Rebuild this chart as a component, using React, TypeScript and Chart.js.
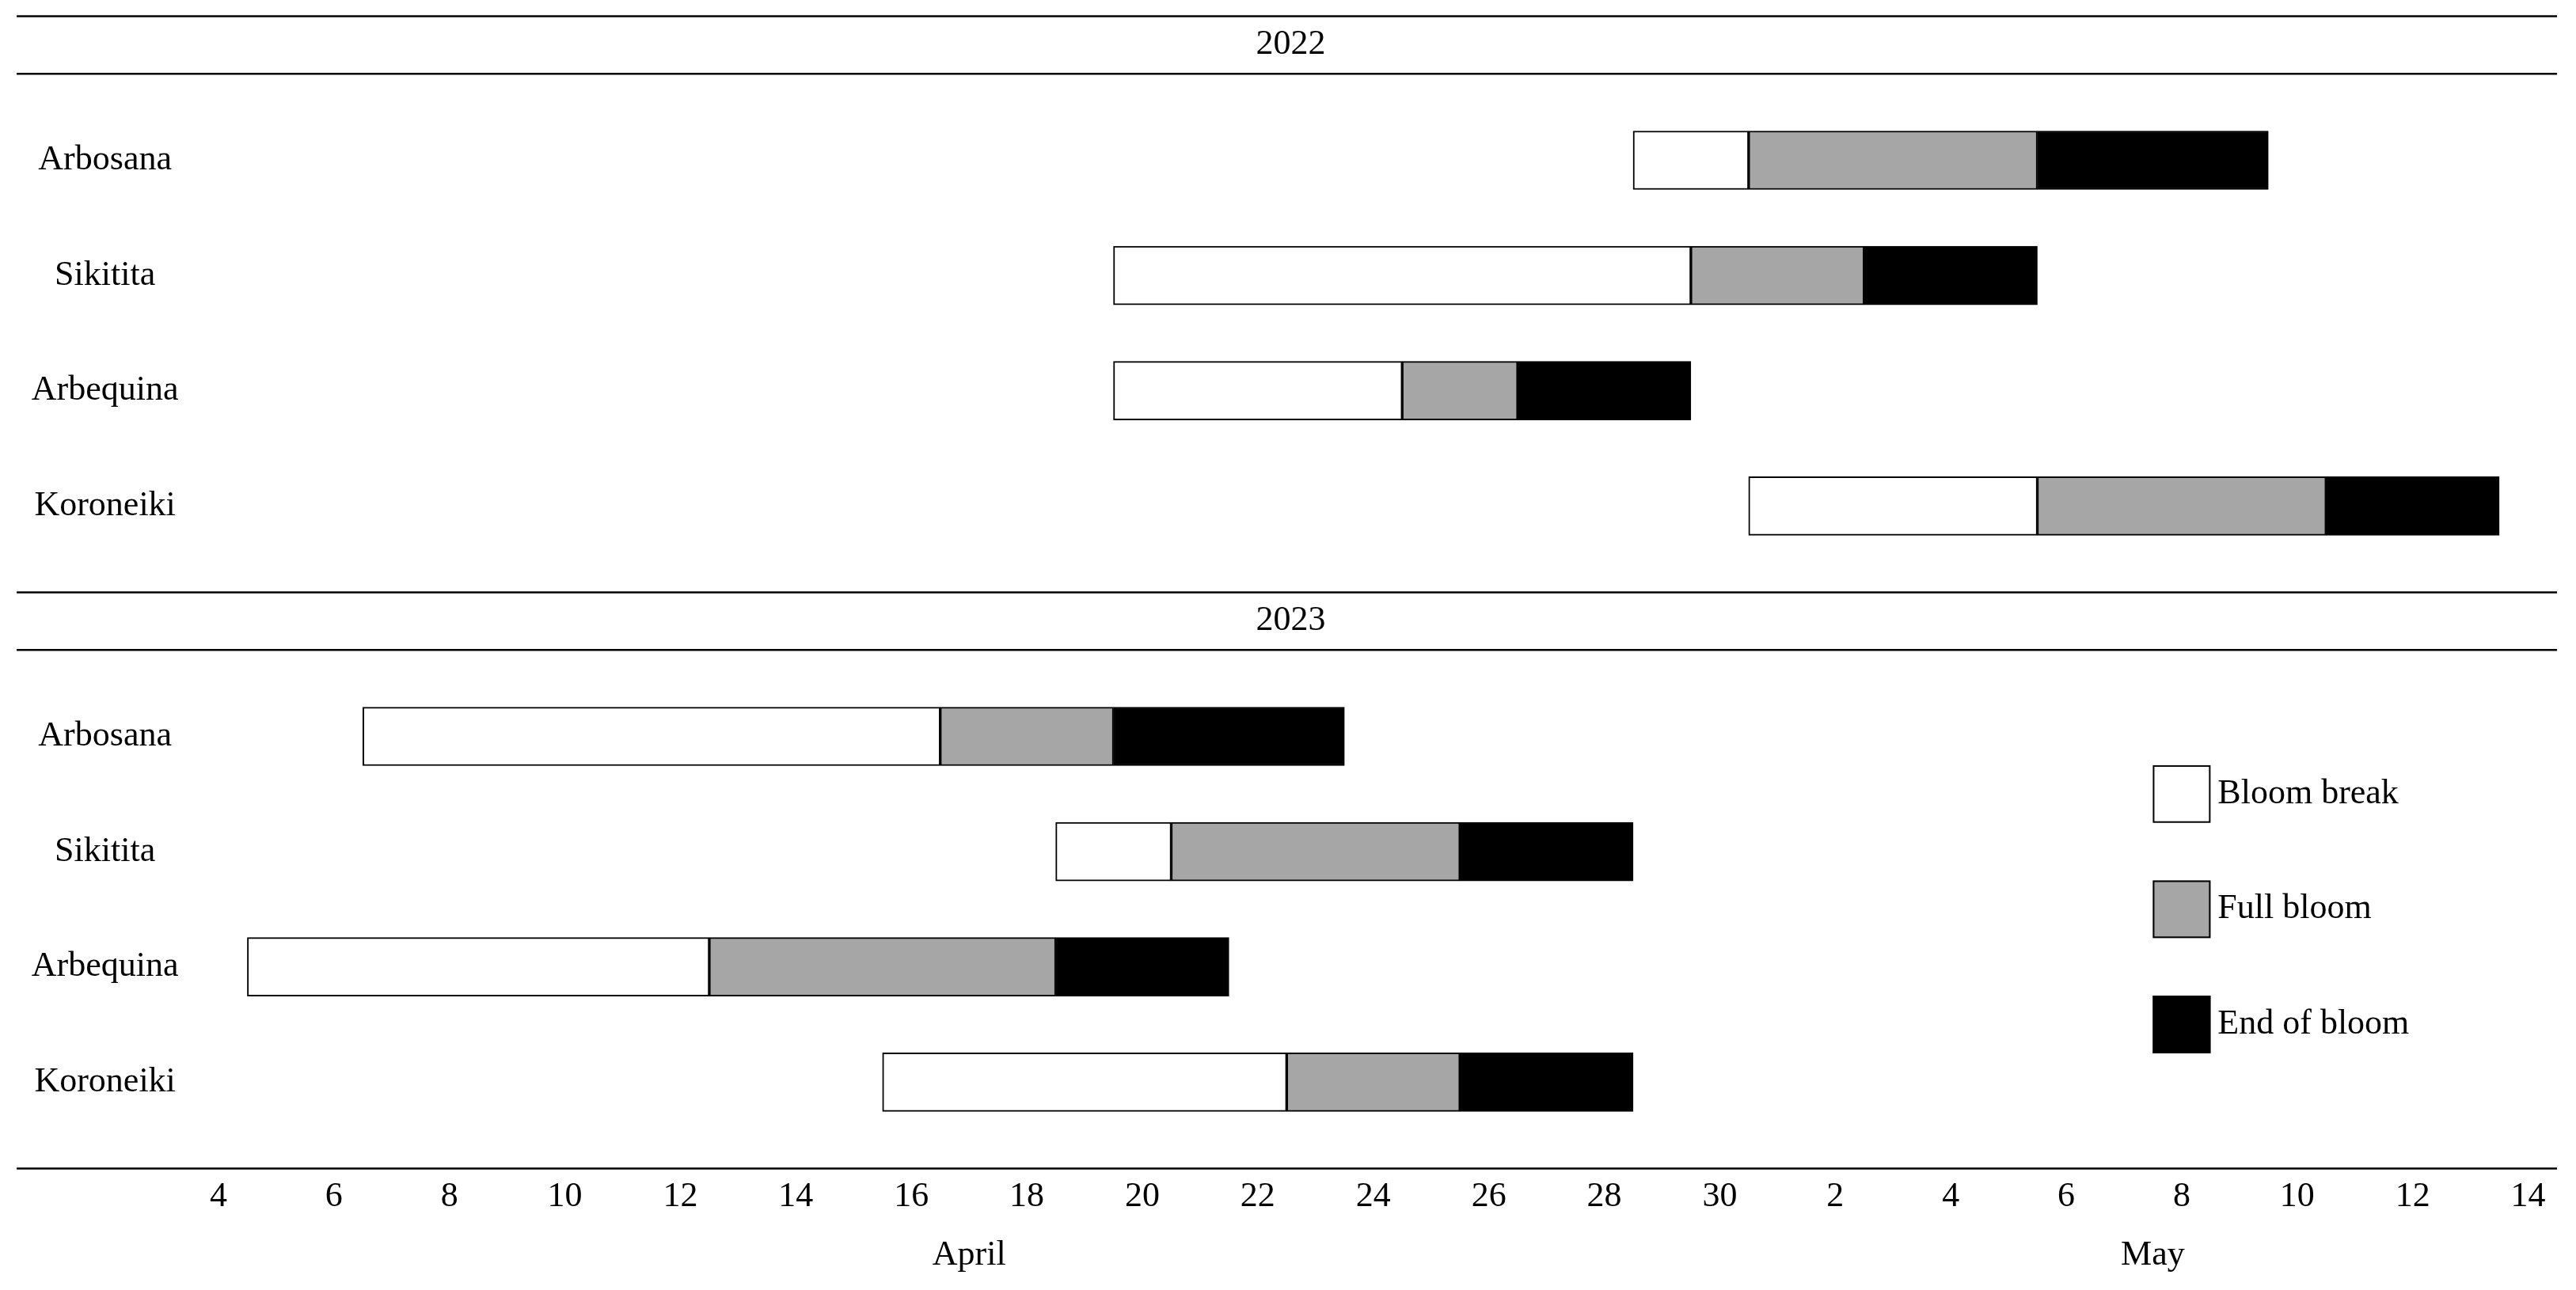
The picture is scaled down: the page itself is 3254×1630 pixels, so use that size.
import { useEffect, useRef } from 'react';
import { Chart, registerables } from 'chart.js';

Chart.register(...registerables);

// ---------------- data ----------------
const years = ['2022', '2023'];
const varieties = ['Arbosana', 'Sikitita', 'Arbequina', 'Koroneiki'];
const stageNames = ['Bloom break', 'Full bloom', 'End of bloom'];
const stageColors = ['#ffffff', '#a6a6a6', '#000000'];

// Day numbers counted from 1 April (1 May = 31). Each entry: [start, end] of the stage, per variety.
const bloomBreak2022 = [[28.5, 30.5], [19.5, 29.5], [19.5, 24.5], [30.5, 35.5]];
const fullBloom2022 = [[30.5, 35.5], [29.5, 32.5], [24.5, 26.5], [35.5, 40.5]];
const endOfBloom2022 = [[35.5, 39.5], [32.5, 35.5], [26.5, 29.5], [40.5, 43.5]];

const bloomBreak2023 = [[6.5, 16.5], [18.5, 20.5], [4.5, 12.5], [15.5, 22.5]];
const fullBloom2023 = [[16.5, 19.5], [20.5, 25.5], [12.5, 18.5], [22.5, 25.5]];
const endOfBloom2023 = [[19.5, 23.5], [25.5, 28.5], [18.5, 21.5], [25.5, 28.5]];

const xTickValues = [4, 6, 8, 10, 12, 14, 16, 18, 20, 22, 24, 26, 28, 30, 32, 34, 36, 38, 40, 42, 44];
const xTickLabels = ['4', '6', '8', '10', '12', '14', '16', '18', '20', '22', '24', '26', '28', '30', '2', '4', '6', '8', '10', '12', '14'];
const monthTickValues = [17, 37.5];
const monthLabels = ['April', 'May'];

// ---------------- layout helpers ----------------
const FONT = 'Liberation Serif';
const FONT_SIZE = 44;
const ROWS_PER_YEAR = 5; // header row + 4 varieties

const series2022 = [bloomBreak2022, fullBloom2022, endOfBloom2022];
const series2023 = [bloomBreak2023, fullBloom2023, endOfBloom2023];
const seriesByYear = [series2022, series2023];

const varietyRows: number[] = [];
const varietyRowLabels: string[] = [];
years.forEach((_, yi) => {
  varieties.forEach((v, vi) => {
    varietyRows.push(yi * ROWS_PER_YEAR + vi);
    varietyRowLabels.push(v);
  });
});

const datasets = stageNames.map((name, s) => ({
  label: name,
  data: seriesByYear.flatMap((series, yi) =>
    series[s].map((iv, vi) => ({ x: iv, y: yi * ROWS_PER_YEAR + vi }))
  ),
  backgroundColor: stageColors[s],
  borderColor: '#000000',
  borderWidth: 2,
  borderSkipped: false as const,
  grouped: false,
  categoryPercentage: 1,
  barPercentage: 1,
  maxBarThickness: 74,
  xAxisID: 'x',
  yAxisID: 'y',
}));

const decorPlugin = {
  id: 'decor',
  afterDraw(chart: any) {
    const { ctx, chartArea, scales } = chart;
    const xs = scales.x;
    const ys = scales.y;
    const left = ys.left;
    const right = chartArea.right;
    ctx.save();
    // horizontal rules
    ctx.strokeStyle = '#000000';
    ctx.lineWidth = 2.5;
    const ruleValues: number[] = [];
    years.forEach((_, yi) => {
      const hr = yi * ROWS_PER_YEAR - 1;
      ruleValues.push(hr - 0.25, hr + 0.25);
    });
    ruleValues.push(ys.max);
    ruleValues.forEach((v) => {
      const py = ys.getPixelForValue(v);
      ctx.beginPath();
      ctx.moveTo(left, py);
      ctx.lineTo(right, py);
      ctx.stroke();
    });
    // year headers
    ctx.font = `${FONT_SIZE}px "${FONT}"`;
    ctx.fillStyle = '#000000';
    ctx.textAlign = 'center';
    ctx.textBaseline = 'middle';
    years.forEach((yr, yi) => {
      ctx.fillText(yr, (left + right) / 2 + 5, ys.getPixelForValue(yi * ROWS_PER_YEAR - 1));
    });
    // legend
    const lx0 = xs.getPixelForValue(37.5);
    const lx1 = xs.getPixelForValue(38.5);
    const h = Math.abs(ys.getPixelForValue(0.5) - ys.getPixelForValue(0));
    chart.data.datasets.forEach((ds: any, i: number) => {
      const cy = ys.getPixelForValue(5.5 + i);
      ctx.fillStyle = ds.backgroundColor;
      ctx.fillRect(lx0, cy - h / 2, lx1 - lx0, h);
      ctx.lineWidth = 2;
      ctx.strokeStyle = '#000000';
      ctx.strokeRect(lx0 + 1, cy - h / 2 + 1, lx1 - lx0 - 2, h - 2);
      ctx.fillStyle = '#000000';
      ctx.textAlign = 'left';
      ctx.fillText(ds.label, lx1 + 9, cy);
    });
    ctx.restore();
  },
};

const zeroPadding = (s: any) => {
  s.paddingLeft = 0;
  s.paddingRight = 0;
  s.paddingTop = 0;
  s.paddingBottom = 0;
};

export default function App() {
  const ref = useRef<HTMLCanvasElement>(null);

  useEffect(() => {
    if (!ref.current) return;
    const tickFont = { family: FONT, size: FONT_SIZE, lineHeight: 1.2 };
    const chart = new Chart(ref.current, {
      type: 'bar',
      data: { datasets: datasets as any },
      plugins: [decorPlugin],
      options: {
        indexAxis: 'y',
        animation: false,
        responsive: false,
        maintainAspectRatio: false,
        devicePixelRatio: 1,
        layout: { padding: { left: 21, right: 24, top: 20.5, bottom: 5.5 } },
        plugins: {
          legend: { display: false },
          tooltip: { enabled: false },
          title: { display: false },
        },
        scales: {
          x: {
            type: 'linear',
            axis: 'x',
            position: 'bottom',
            weight: 0,
            offset: false,
            min: 3.5,
            max: 44.5,
            grid: { display: false, drawTicks: false, offset: false },
            border: { display: false },
            afterBuildTicks: (s: any) => {
              s.ticks = xTickValues.map((v) => ({ value: v }));
            },
            afterFit: zeroPadding,
            ticks: {
              autoSkip: false,
              maxRotation: 0,
              padding: 9.1,
              color: '#000000',
              font: tickFont,
              callback: (_v: any, i: number) => xTickLabels[i],
            },
          },
          month: {
            type: 'linear',
            axis: 'x',
            position: 'bottom',
            weight: 1,
            offset: false,
            min: 3.5,
            max: 44.5,
            grid: { display: false, drawTicks: false, offset: false },
            border: { display: false },
            afterBuildTicks: (s: any) => {
              s.ticks = monthTickValues.map((v) => ({ value: v }));
            },
            afterFit: zeroPadding,
            ticks: {
              autoSkip: false,
              maxRotation: 0,
              padding: 12.1,
              color: '#000000',
              font: tickFont,
              callback: (_v: any, i: number) => monthLabels[i],
            },
          },
          y: {
            type: 'linear',
            position: 'left',
            reverse: true,
            offset: false,
            min: -1.25,
            max: 8.75,
            grid: { display: false, drawTicks: false, offset: false },
            border: { display: false },
            afterBuildTicks: (s: any) => {
              s.ticks = varietyRows.map((v) => ({ value: v }));
            },
            afterFit: (s: any) => {
              s.width = 218.5;
              zeroPadding(s);
            },
            ticks: {
              autoSkip: false,
              crossAlign: 'center',
              padding: 14,
              color: '#000000',
              font: tickFont,
              callback: (_v: any, i: number) => varietyRowLabels[i],
            },
          },
        },
      } as any,
    });
    return () => chart.destroy();
  }, []);

  return (
    <canvas
      ref={ref}
      width={3254}
      height={1630}
      style={{ position: 'absolute', left: 0, top: 0, width: '3254px', height: '1630px', display: 'block' }}
    />
  );
}
